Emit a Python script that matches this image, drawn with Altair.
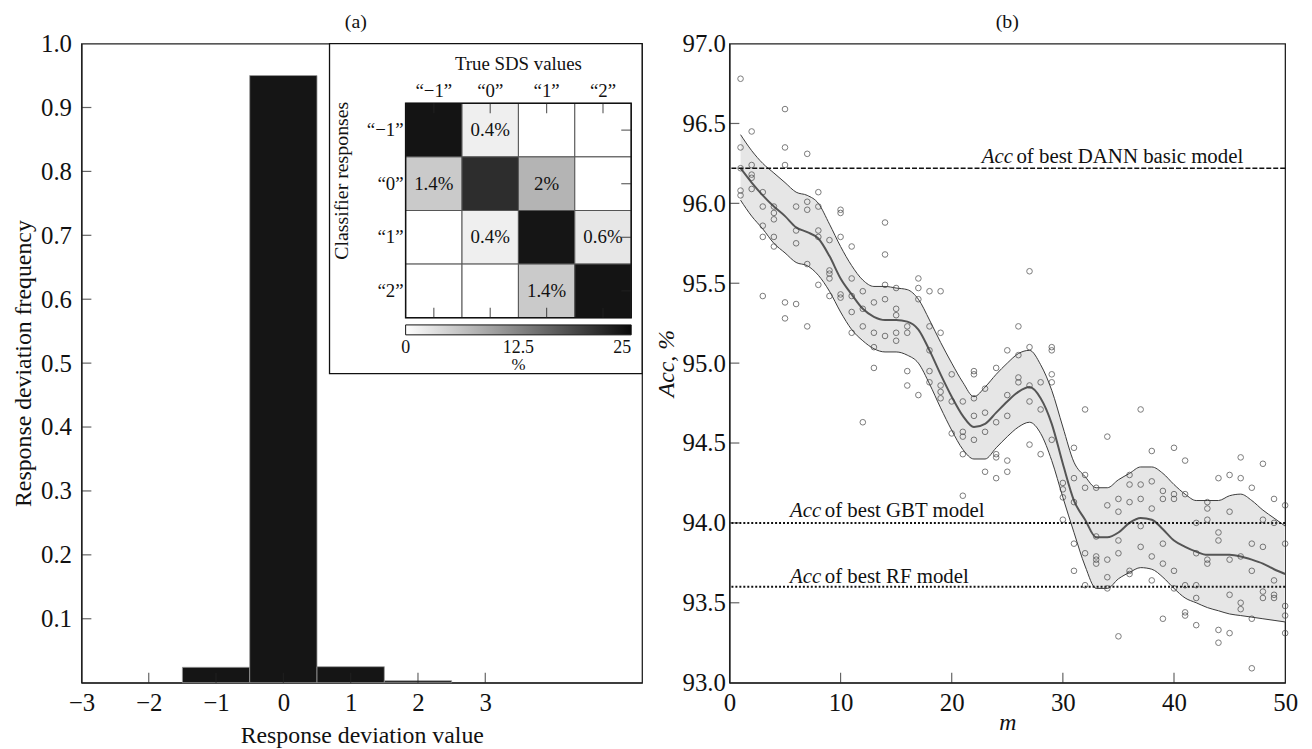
import altair as alt
import pandas as pd

FONT = "Liberation Serif"

# ---------------- Panel (a): histogram of response deviations ----------------
dev_values = [-1, 0, 1, 2]
dev_freq = [0.024, 0.950, 0.025, 0.003]
hist_x_ticks = [-3, -2, -1, 0, 1, 2, 3]
hist_y_ticks = [0.1, 0.2, 0.3, 0.4, 0.5, 0.6, 0.7, 0.8, 0.9, 1.0]

# inset confusion matrix (rows: classifier responses, cols: true SDS values)
sds_classes = ["\u201c\u22121\u201d", "\u201c0\u201d", "\u201c1\u201d", "\u201c2\u201d"]
conf_pct = [
    [24.6, 0.4, 0.0, 0.0],
    [1.4, 21.0, 2.0, 0.0],
    [0.0, 0.4, 24.4, 0.6],
    [0.0, 0.0, 1.4, 24.6],
]
conf_labels = [
    ["", "0.4%", "", ""],
    ["1.4%", "", "2%", ""],
    ["", "0.4%", "", "0.6%"],
    ["", "", "1.4%", ""],
]
colorbar_labels = ["0", "12.5", "25"]

# ---------------- Panel (b): accuracy vs m ----------------
m_values = list(range(1, 51))
acc_points = [
    [96.78, 96.35, 96.22, 96.08, 96.05],
    [96.45, 96.24, 96.18, 96.16, 96.09],
    [96.07, 95.98, 95.86, 95.79, 95.42],
    [95.98, 95.94, 95.90, 95.79, 95.73],
    [96.59, 96.35, 96.24, 95.38, 95.28],
    [95.98, 95.83, 95.75, 95.37],
    [96.31, 96.01, 95.96, 95.62, 95.23],
    [96.07, 95.98, 95.83, 95.79, 95.49],
    [95.77, 95.58, 95.56, 95.53, 95.42],
    [95.96, 95.94, 95.79, 95.43, 95.41],
    [95.73, 95.53, 95.42, 95.32, 95.19],
    [95.45, 95.34, 95.23, 94.63],
    [95.38, 95.19, 95.10, 94.97],
    [95.88, 95.68, 95.49, 95.40, 95.17],
    [95.47, 95.34, 95.30, 95.19, 95.14],
    [95.23, 95.19, 94.95, 94.86],
    [95.53, 95.47, 95.40, 94.80],
    [95.45, 95.23, 95.08, 94.95, 94.88],
    [95.45, 95.19, 94.86, 94.82, 94.78],
    [94.93, 94.76, 94.56],
    [94.76, 94.57, 94.54, 94.43, 94.17],
    [94.95, 94.93, 94.78, 94.67, 94.52],
    [94.84, 94.69, 94.57, 94.32],
    [94.97, 94.63, 94.43, 94.41, 94.28],
    [95.08, 94.80, 94.67, 94.39, 94.32],
    [95.23, 95.05, 94.91, 94.88],
    [95.575, 95.10, 94.86, 94.76, 94.49],
    [94.88, 94.71, 94.43],
    [95.10, 95.08, 94.93, 94.88, 94.52],
    [94.25, 94.21, 94.16, 94.02],
    [94.47, 94.28, 94.13, 93.87, 93.70],
    [94.71, 94.30, 94.22, 93.81, 93.61],
    [94.22, 93.915, 93.79, 93.77, 93.745],
    [94.54, 94.11, 93.77, 93.66, 93.59],
    [94.15, 94.07, 93.89, 93.81, 93.29],
    [94.30, 94.24, 94.13, 93.70, 93.68],
    [94.71, 94.24, 94.15, 93.98, 93.85],
    [94.45, 94.26, 94.09, 93.79, 93.64],
    [94.20, 94.15, 93.87, 93.745, 93.40],
    [94.47, 94.18, 94.15, 93.70, 93.59],
    [94.39, 94.18, 93.61, 93.44, 93.42],
    [94.00, 93.81, 93.61, 93.53, 93.36],
    [94.13, 94.09, 94.02, 93.77, 93.745],
    [94.28, 93.94, 93.89, 93.33, 93.25],
    [94.30, 94.07, 93.77, 93.55, 93.31],
    [94.41, 94.28, 93.79, 93.50, 93.46],
    [94.22, 93.87, 93.70, 93.40, 93.09],
    [94.37, 94.02, 93.85, 93.57, 93.53],
    [94.15, 94.00, 93.64, 93.55, 93.53],
    [94.11, 93.87, 93.48, 93.42, 93.31],
]
acc_upper = [96.43, 96.33, 96.25, 96.19, 96.13, 96.07, 96.05, 96.00, 95.87, 95.73,
             95.61, 95.52, 95.48, 95.48, 95.47, 95.46, 95.40, 95.27, 95.13, 95.00,
             94.88, 94.79, 94.85, 94.93, 95.00, 95.06, 95.08, 94.99, 94.83, 94.60,
             94.38, 94.29, 94.22, 94.22, 94.27, 94.31, 94.35, 94.35, 94.31, 94.24,
             94.18, 94.14, 94.14, 94.14, 94.17, 94.18, 94.14, 94.08, 94.03, 93.98]
acc_mean = [96.22, 96.13, 96.05, 95.98, 95.92, 95.85, 95.82, 95.78, 95.67, 95.53,
            95.43, 95.34, 95.29, 95.27, 95.27, 95.26, 95.21, 95.08, 94.93, 94.79,
            94.67, 94.60, 94.62, 94.69, 94.76, 94.82, 94.85, 94.78, 94.62, 94.37,
            94.14, 94.02, 93.91, 93.91, 93.94, 94.00, 94.03, 94.02, 93.96, 93.89,
            93.85, 93.82, 93.80, 93.80, 93.80, 93.79, 93.77, 93.745, 93.71, 93.68]
acc_lower = [96.02, 95.92, 95.84, 95.75, 95.69, 95.63, 95.61, 95.55, 95.45, 95.32,
             95.21, 95.14, 95.09, 95.07, 95.07, 95.05, 95.00, 94.87, 94.72, 94.58,
             94.46, 94.40, 94.40, 94.47, 94.54, 94.60, 94.63, 94.56, 94.39, 94.16,
             93.94, 93.73, 93.59, 93.59, 93.65, 93.69, 93.72, 93.71, 93.66, 93.59,
             93.53, 93.50, 93.47, 93.45, 93.43, 93.42, 93.41, 93.40, 93.39, 93.38]
ref_names = ["DANN basic model", "GBT model", "RF model"]
ref_values = [96.22, 94.00, 93.60]
acc_y_ticks = [93.0, 93.5, 94.0, 94.5, 95.0, 95.5, 96.0, 96.5, 97.0]
m_ticks = [0, 10, 20, 30, 40, 50]

# ======================= build panel (a) =======================
W1, H = 565, 644
W2 = 560
one = pd.DataFrame({"k": [0]})

hx_scale = alt.Scale(domain=[-3, 5.33], nice=False, zero=False)
hy_scale = alt.Scale(domain=[0, 1], nice=False, zero=False)

hist_df = pd.DataFrame({"dev": dev_values, "freq": dev_freq})
hist = alt.Chart(hist_df).transform_calculate(
    lo="datum.dev - 0.5", hi="datum.dev + 0.5"
).mark_rect(color="#151515", stroke="#9a9a9a", strokeWidth=0.8).encode(
    x=alt.X("lo:Q", scale=hx_scale,
            axis=alt.Axis(values=hist_x_ticks, format="d", title="Response deviation value",
                          labelPadding=8, titlePadding=8)),
    x2="hi:Q",
    y=alt.Y("freq:Q", scale=hy_scale,
            axis=alt.Axis(values=hist_y_ticks, format=".1f",
                          title="Response deviation frequency",
                          labelPadding=10, titlePadding=5)),
    y2=alt.datum(0),
)

hist_yt = alt.Chart(pd.DataFrame({"freq": hist_y_ticks[:-1]})).mark_tick(
    orient="horizontal", size=10, thickness=1.2, color="#222"
).encode(y=alt.Y("freq:Q", scale=hy_scale), x=alt.value(5))
hist_xt = alt.Chart(pd.DataFrame({"lo": hist_x_ticks[1:]})).mark_tick(
    orient="vertical", size=10, thickness=1.2, color="#222"
).encode(x=alt.X("lo:Q", scale=hx_scale), y=alt.value(H - 5))

hist_layer = alt.layer(hist, hist_yt, hist_xt)

# inset geometry (pixels inside panel a)
IX0, IX1, IY0, IY1 = 250, W1, 0, 332.5
CX0, CX1, CY0, CY1 = 326.7, 554, 60.2, 276.2
BY0, BY1 = 283.5, 293.5
CXM = (CX0 + CX1) / 2

frame = alt.Chart(one).mark_rect(fill="white", stroke="#111", strokeWidth=1.3).encode(
    x=alt.value(IX0), x2=alt.value(IX1), y=alt.value(IY0), y2=alt.value(IY1))

cells = []
for i, r in enumerate(sds_classes):
    for j, c in enumerate(sds_classes):
        cells.append({"resp": r, "true": c, "pct": conf_pct[i][j], "label": conf_labels[i][j]})
cell_df = pd.DataFrame(cells)
cls_df = pd.DataFrame({"cls": sds_classes})

bx = alt.Scale(domain=sds_classes, range=[CX0, CX1], paddingInner=0, paddingOuter=0)
by = alt.Scale(domain=sds_classes, range=[CY0, CY1], paddingInner=0, paddingOuter=0)

heat = alt.Chart(cell_df).mark_rect(stroke="#555", strokeWidth=1).encode(
    x=alt.X("true:N", scale=bx, axis=None, sort=sds_classes),
    y=alt.Y("resp:N", scale=by, axis=None, sort=sds_classes),
    color=alt.Color("pct:Q", legend=None,
                    scale=alt.Scale(domain=[0, 0.5, 2, 25],
                                    range=["#ffffff", "#ebebeb", "#b4b4b4", "#111111"],
                                    interpolate="rgb")),
)
heat_text = alt.Chart(cell_df).mark_text(font=FONT, fontSize=19, color="#111").encode(
    x=alt.X("true:N", scale=bx, axis=None, sort=sds_classes),
    y=alt.Y("resp:N", scale=by, axis=None, sort=sds_classes),
    text="label:N",
)
heat_border = alt.Chart(one).mark_rect(fill=None, stroke="#111", strokeWidth=1.5).encode(
    x=alt.value(CX0), x2=alt.value(CX1), y=alt.value(CY0), y2=alt.value(CY1))
tick_top = alt.Chart(cls_df).mark_tick(orient="vertical", size=10, thickness=1.2, color="#222").encode(
    x=alt.X("cls:N", scale=bx, axis=None, sort=sds_classes), y=alt.value(CY0 + 5))
tick_bot = alt.Chart(cls_df).mark_tick(orient="vertical", size=10, thickness=1.2, color="#222").encode(
    x=alt.X("cls:N", scale=bx, axis=None, sort=sds_classes), y=alt.value(CY1 - 5))
tick_right = alt.Chart(cls_df).mark_tick(orient="horizontal", size=10, thickness=1.2, color="#222").encode(
    y=alt.Y("cls:N", scale=by, axis=None, sort=sds_classes), x=alt.value(CX1 - 5))
col_lab = alt.Chart(cls_df).mark_text(font=FONT, fontSize=19, color="#111").encode(
    x=alt.X("cls:N", scale=bx, axis=None, sort=sds_classes), y=alt.value(47.5), text="cls:N")
row_lab = alt.Chart(cls_df).mark_text(font=FONT, fontSize=19, color="#111", align="right").encode(
    y=alt.Y("cls:N", scale=by, axis=None, sort=sds_classes), x=alt.value(CX0 - 2), text="cls:N")
true_title = alt.Chart(one).mark_text(font=FONT, fontSize=19, color="#111", text="True SDS values").encode(
    x=alt.value(CXM), y=alt.value(20.5))
resp_title = alt.Chart(one).mark_text(font=FONT, fontSize=20, color="#111", angle=270,
                                      text="Classifier responses").encode(
    x=alt.value(262.7), y=alt.value(138.2))
cbar = alt.Chart(one).mark_rect(
    fill=alt.Gradient(gradient="linear",
                      stops=[alt.GradientStop(color="#ffffff", offset=0),
                             alt.GradientStop(color="#0a0a0a", offset=1)],
                      x1=0, x2=1, y1=0, y2=0),
    stroke="#111", strokeWidth=1).encode(
    x=alt.value(CX0), x2=alt.value(CX1), y=alt.value(BY0), y2=alt.value(BY1))
cb0 = alt.Chart(one).mark_text(font=FONT, fontSize=18, color="#111", text=colorbar_labels[0]).encode(
    x=alt.value(CX0), y=alt.value(307))
cb1 = alt.Chart(one).mark_text(font=FONT, fontSize=18, color="#111", text=colorbar_labels[1]).encode(
    x=alt.value(CXM), y=alt.value(307))
cb2 = alt.Chart(one).mark_text(font=FONT, fontSize=18, color="#111", align="right",
                               text=colorbar_labels[2]).encode(
    x=alt.value(CX1), y=alt.value(307))
cb_unit = alt.Chart(one).mark_text(font=FONT, fontSize=17, color="#111", text="%").encode(
    x=alt.value(CXM), y=alt.value(324))

inset = alt.layer(frame, heat, heat_text, heat_border, tick_top, tick_bot, tick_right,
                  col_lab, row_lab, true_title, resp_title, cbar, cb0, cb1, cb2, cb_unit)

panel_a = alt.layer(hist_layer, inset).resolve_scale(
    x="independent", y="independent", color="independent"
).properties(width=W1, height=H,
             title=alt.TitleParams("(a)", font=FONT, fontSize=20, fontWeight="normal",
                                   offset=0, color="#111", dx=-6))

# ======================= build panel (b) =======================
mx_scale = alt.Scale(domain=[0, 50], nice=False)
ay_scale = alt.Scale(domain=[93, 97], nice=False, zero=False)

band_df = pd.DataFrame({"m": m_values, "lo": acc_lower, "mid": acc_mean, "hi": acc_upper})
pts = [{"m": m, "acc": v} for m, vals in zip(m_values, acc_points) for v in vals]
pts_df = pd.DataFrame(pts)

xenc = alt.X("m:Q", scale=mx_scale,
             axis=alt.Axis(values=m_ticks, format="d", title="m", titleFontStyle="italic",
                           labelPadding=8, titlePadding=-5))
band = alt.Chart(band_df).mark_area(color="#e6e6e6", interpolate="monotone").encode(
    x=xenc,
    y=alt.Y("lo:Q", scale=ay_scale,
            axis=alt.Axis(values=acc_y_ticks, format=".1f", title="Acc, %",
                          titleFontStyle="italic", labelPadding=4, titlePadding=4)),
    y2="hi:Q",
)
up_line = alt.Chart(band_df).mark_line(color="#3a3a3a", strokeWidth=1, interpolate="monotone").encode(
    x="m:Q", y=alt.Y("hi:Q", scale=ay_scale))
lo_line = alt.Chart(band_df).mark_line(color="#3a3a3a", strokeWidth=1, interpolate="monotone").encode(
    x="m:Q", y=alt.Y("lo:Q", scale=ay_scale))
mid_line = alt.Chart(band_df).mark_line(color="#555555", strokeWidth=2, interpolate="monotone").encode(
    x="m:Q", y=alt.Y("mid:Q", scale=ay_scale))

ref_df = pd.DataFrame({"name": ref_names, "v": ref_values})
dann_rule = alt.Chart(ref_df.iloc[[0]]).mark_rule(color="#111", strokeWidth=1.4, strokeDash=[5, 2]).encode(
    y=alt.Y("v:Q", scale=ay_scale))
other_rule = alt.Chart(ref_df.iloc[1:]).mark_rule(color="#111", strokeWidth=2, strokeDash=[2, 2]).encode(
    y=alt.Y("v:Q", scale=ay_scale))

points = alt.Chart(pts_df).mark_point(shape="circle", filled=False, size=32,
                                      color="#444", strokeWidth=1).encode(
    x="m:Q", y=alt.Y("acc:Q", scale=ay_scale))

# annotation anchors (m, Acc) for the reference-line captions
lab_df = pd.DataFrame({"m": [22.7, 5.45, 5.45], "y": [96.29, 94.077, 93.66],
                       "rest": ["of best " + n for n in ref_names]})
lab_acc = alt.Chart(lab_df).mark_text(font=FONT, fontSize=21, fontStyle="italic", align="left",
                                      color="#111", text="Acc").encode(
    x="m:Q", y=alt.Y("y:Q", scale=ay_scale))
lab_rest = alt.Chart(lab_df).mark_text(font=FONT, fontSize=21, align="left", dx=35,
                                       color="#111").encode(
    x="m:Q", y=alt.Y("y:Q", scale=ay_scale), text="rest:N")

ayt = alt.Chart(pd.DataFrame({"v": acc_y_ticks[1:-1]})).mark_tick(
    orient="horizontal", size=10, thickness=1.2, color="#222").encode(
    y=alt.Y("v:Q", scale=ay_scale), x=alt.value(5))
mxt = alt.Chart(pd.DataFrame({"v": m_ticks[1:-1]})).mark_tick(
    orient="vertical", size=10, thickness=1.2, color="#222").encode(
    x=alt.X("v:Q", scale=mx_scale), y=alt.value(H - 5))

panel_b = alt.layer(band, up_line, lo_line, mid_line, dann_rule, other_rule, points,
                    lab_acc, lab_rest, ayt, mxt).properties(
    width=W2, height=H,
    title=alt.TitleParams("(b)", font=FONT, fontSize=20, fontWeight="normal",
                          offset=0, color="#111"))

chart = alt.hconcat(panel_a, panel_b, spacing=88, bounds="flush").properties(
    padding={"left": 3, "top": 0, "right": 5, "bottom": 0}
).configure_view(stroke="#222", strokeWidth=1.3).configure_axis(
    labelFont=FONT, labelFontSize=25, labelColor="#111",
    titleFont=FONT, titleFontSize=24, titleFontWeight="normal", titleColor="#111",
    ticks=False, tickSize=0, grid=False, domainColor="#222", domainWidth=1.3,
    labelFlush=False,
).configure_title(anchor="middle")

chart.save("out.html", embed_options={"renderer": "svg", "actions": False})
